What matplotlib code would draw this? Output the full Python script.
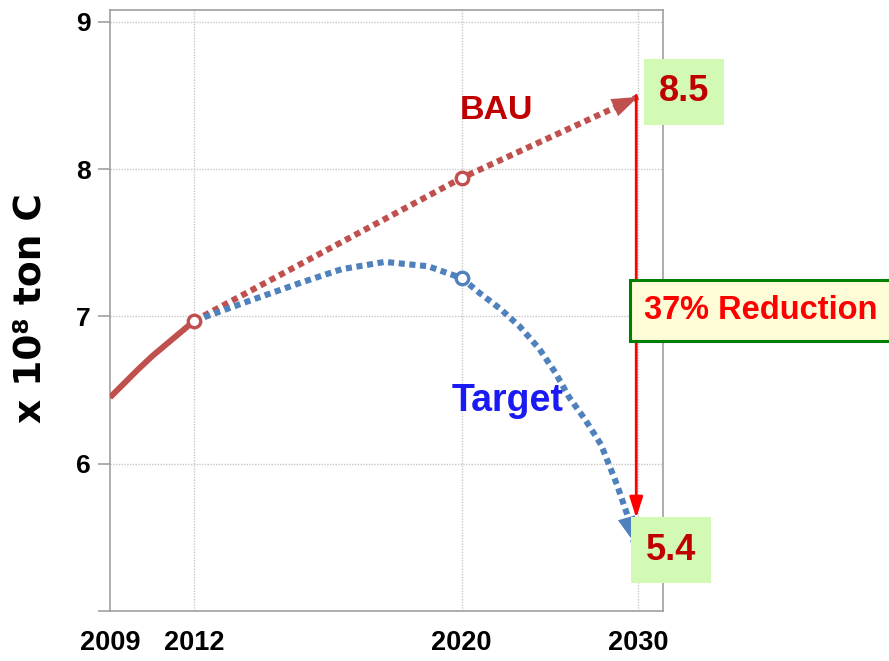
import numpy as np
import matplotlib
matplotlib.use("Agg")
import matplotlib.pyplot as plt

# emissions, x 10^8 ton C
hist_years = [2009, 2010, 2010.5, 2011, 2012]
hist_vals = [6.45, 6.64, 6.73, 6.81, 6.97]

bau_years = [2012, 2020, 2030]
bau_vals = [6.97, 7.94, 8.49]

target_years = [2012, 2013.7, 2015.2, 2016.4, 2017.7, 2019.0, 2020, 2021.0,
                2022.2, 2023.3, 2024.4, 2025.3, 2026.1, 2027.0, 2027.9,
                2028.8, 2029.4, 2029.75]
target_vals = [6.97, 7.11, 7.23, 7.32, 7.37, 7.34, 7.26, 7.16,
               7.05, 6.93, 6.78, 6.62, 6.45, 6.30, 6.13,
               5.86, 5.65, 5.47]

marker_years = [2012, 2020]
bau_end, target_end = 8.5, 5.4
reduction_label = "37% Reduction"

xtick_years = [2009, 2012, 2020, 2030]
yticks = [5, 6, 7, 8, 9]
ytick_labels = ["", "6", "7", "8", "9"]

RED = "#C0504D"
BLUE = "#4F81BD"
DARKRED = "#C00000"

bold_font = ["Liberation Sans", "DejaVu Sans"]

# the year axis is not evenly spaced in the original
scale_years = [2009, 2012, 2020, 2030, 2031.5]
scale_pos = [0.0, 84.3, 351.7, 528.0, 554.4]


def fwd(x):
    return np.interp(x, scale_years, scale_pos)


def inv(x):
    return np.interp(x, scale_pos, scale_years)


fig = plt.figure(figsize=(8.89, 6.61), dpi=100)
ax = fig.add_axes([110 / 889, 1 - 611 / 661, 553 / 889, 601 / 661])
ax.set_xscale("function", functions=(fwd, inv))
ax.set_xlim(2009, 2031.42)
ax.set_ylim(5, 9.08)

ax.grid(True, color="#C8C8C8", linestyle=(0, (1, 1)), linewidth=1.0)
ax.set_axisbelow(True)
for s in ax.spines.values():
    s.set_color("#A0A0A0")
    s.set_linewidth(1.2)

ax.set_xticks(xtick_years)
ax.set_xticklabels([str(y) for y in xtick_years], family=bold_font,
                   fontweight="bold", fontsize=19.5)
ax.set_yticks(yticks)
ax.set_yticklabels(ytick_labels, family=bold_font, fontweight="bold", fontsize=19)
ax.tick_params(axis="x", length=0, pad=14)
ax.tick_params(axis="y", length=9, width=1.2, color="#A0A0A0", pad=5)
ax.xaxis.get_gridlines()[0].set_visible(False)

ax.set_ylabel("x 10⁸ ton C", fontsize=27, fontweight="bold", family="DejaVu Sans")
ax.yaxis.set_label_coords(-0.112, 0.504)

dots = (0, (1.0, 0.75))
ax.plot(hist_years, hist_vals, color=RED, lw=4.3, solid_capstyle="butt", zorder=4)
ax.plot(bau_years, bau_vals, color=RED, lw=4.4, linestyle=dots, zorder=3)
ax.plot(target_years, target_vals, color=BLUE, lw=4.4, linestyle=dots, zorder=3)

# arrow heads at the ends of the projections
head = "-|>,head_length=0.75,head_width=0.27"
ax.annotate("", xy=(bau_years[-1], bau_vals[-1]), xytext=(2027.5, 8.355),
            arrowprops=dict(arrowstyle=head, color=RED, lw=0, mutation_scale=25,
                            shrinkA=0, shrinkB=0), zorder=4)
ax.annotate("", xy=(target_years[-1], target_vals[-1]),
            xytext=(target_years[-3], target_vals[-3]),
            arrowprops=dict(arrowstyle=head, color=BLUE, lw=0, mutation_scale=24,
                            shrinkA=0, shrinkB=0), zorder=4)

ax.plot(marker_years[:1], hist_vals[-1:], "o", ms=9, mfc="white", mec=RED,
        mew=2.4, zorder=5)
ax.plot(marker_years[1:], bau_vals[1:2], "o", ms=9, mfc="white", mec=RED,
        mew=2.4, zorder=5)
ax.plot(marker_years[1:], [target_vals[6]], "o", ms=9, mfc="white", mec=BLUE,
        mew=2.4, zorder=5)

# reduction arrow
ax.annotate("", xy=(2029.9, 5.63), xytext=(2029.9, bau_end),
            arrowprops=dict(arrowstyle="-|>,head_length=0.7,head_width=0.22",
                            color="#FF0000", lw=2.0, mutation_scale=18,
                            shrinkA=0, shrinkB=0), zorder=6)

ax.text(2022.0, 8.34, "BAU", color=DARKRED, fontsize=24.5, fontweight="bold",
        family=bold_font, ha="center", va="baseline")
ax.text(2022.6, 6.36, "Target", color="#1A1AF5", fontsize=27, fontweight="bold",
        family=bold_font, ha="center", va="baseline")

box = dict(boxstyle="square,pad=0.42", fc="#D2FAB4", ec="none")
ax.annotate(f"{bau_end}", xy=(2030, bau_end), xytext=(33.1, 2.5),
            textcoords="offset points", ha="center", va="center",
            color=DARKRED, fontsize=26, fontweight="bold", family=bold_font,
            bbox=box, annotation_clip=False, zorder=7)
ax.annotate(f"{target_end}", xy=(2030, target_end), xytext=(23.8, 1.4),
            textcoords="offset points", ha="center", va="center",
            color=DARKRED, fontsize=26, fontweight="bold", family=bold_font,
            bbox=box, annotation_clip=False, zorder=7)
ax.annotate(reduction_label, xy=(2030, 7.04), xytext=(4.5, 0),
            textcoords="offset points", ha="left", va="center",
            color="#FF0000", fontsize=23.5, fontweight="bold", family=bold_font,
            bbox=dict(boxstyle="square,pad=0.45", fc="#FFFCD8", ec="#008000", lw=2.2),
            annotation_clip=False, zorder=7)

fig.savefig("out.png", dpi=100)
